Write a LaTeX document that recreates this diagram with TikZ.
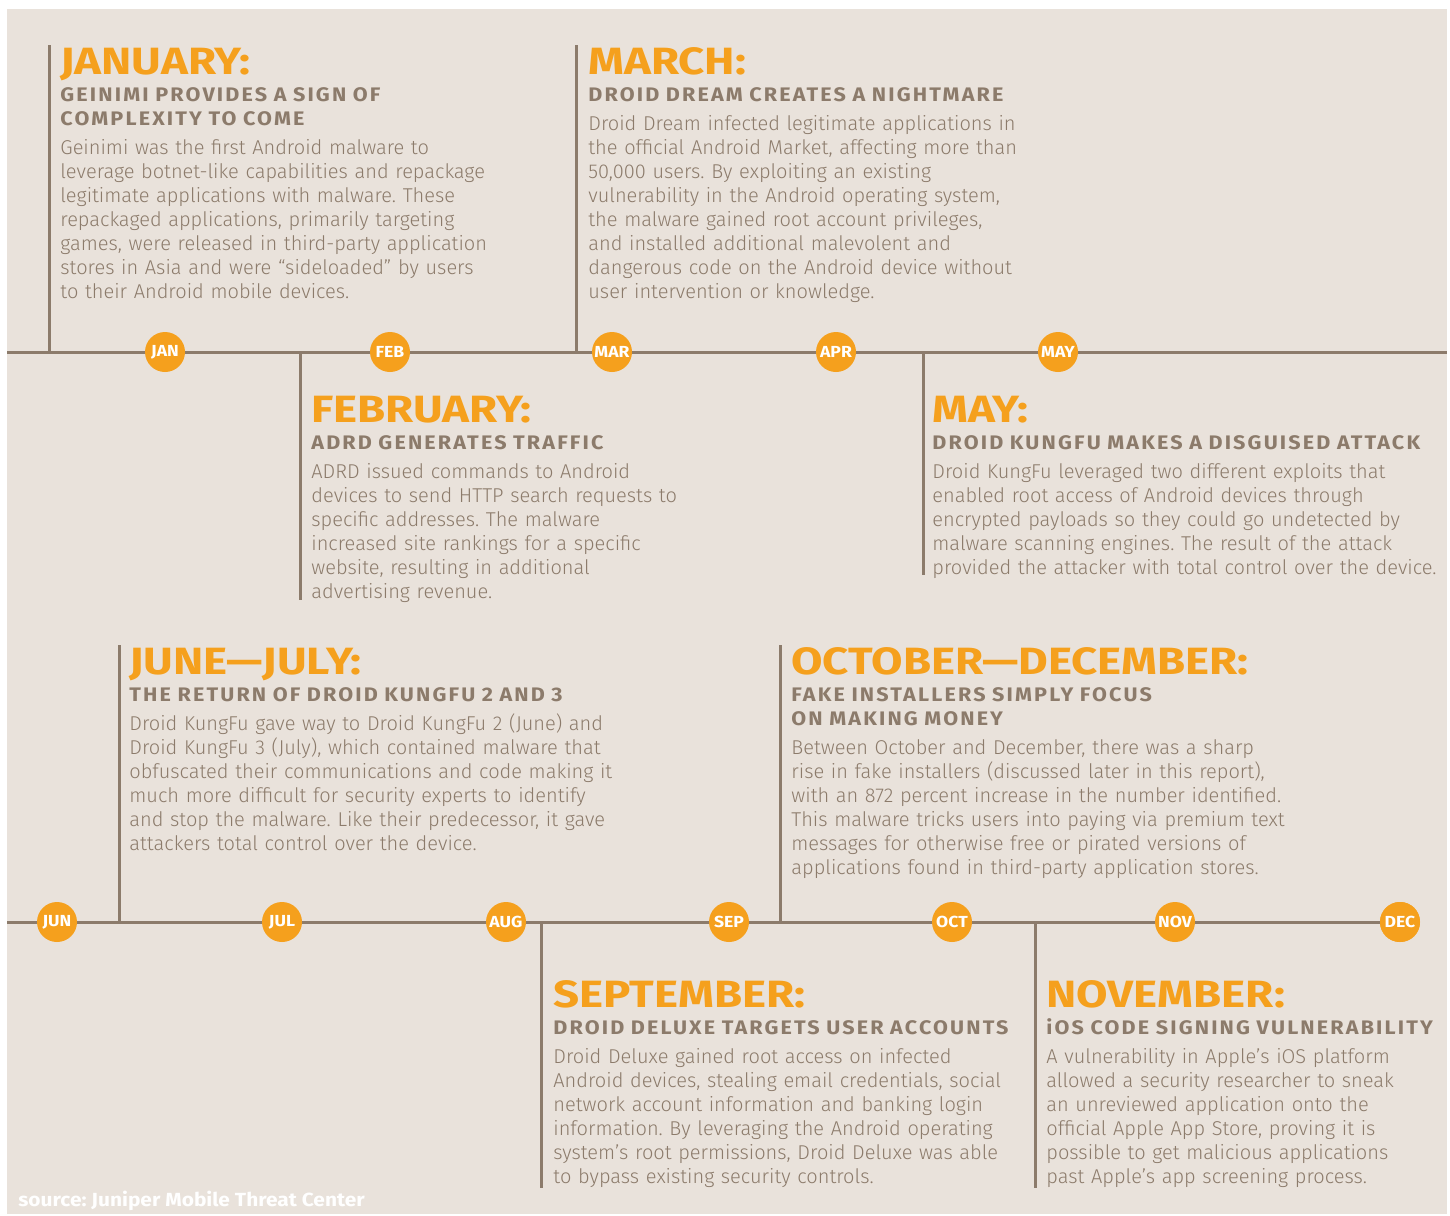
\documentclass[tikz,border=0pt]{standalone}
\usepackage{fontspec}
\setmainfont{Fira Sans Light}[BoldFont={Fira Sans Bold}]
\newfontfamily\headfont{Fira Sans Bold}[FakeStretch=1.2]
\newfontfamily\capsfont{Fira Sans Bold}[FakeStretch=1.1, LetterSpace=11]
\newfontfamily\tagfont{Fira Sans Bold}[FakeStretch=1.1]

\definecolor{sand}{HTML}{E9E2DB}
\definecolor{umber}{HTML}{8C7B6B}
\definecolor{amber}{HTML}{F5A01D}

\begin{document}
\frenchspacing
\begin{tikzpicture}[x=0.5pt, y=-0.5pt,
	headline/.style={anchor=base west, inner sep=0pt, text=amber, font={\headfont\fontsize{19}{20}\selectfont}},
	subline/.style={anchor=base west, inner sep=0pt, text=umber, text width=300pt, align=left, font={\capsfont\fontsize{9.8}{12}\selectfont}},
	bodytext/.style={anchor=base west, inner sep=0pt, text=umber, text width=300pt, align=left, font={\fontsize{10}{12}\selectfont}},
	month/.style={circle, fill=amber, minimum size=20pt, inner sep=0pt, text=white, font={\tagfont\fontsize{8}{8}\selectfont}},
	axis/.style={draw=umber, line width=1.5pt},
	tick/.style={draw=umber, line width=1.5pt}]
	
	\useasboundingbox (0,0) rectangle (1450,1215);
	\fill[sand] (7,9) rectangle (1447,1214);
	
	% timeline ends
	\coordinate (topstart) at (7,352);
	\coordinate (topend) at (1447,352);
	\coordinate (botstart) at (7,922);
	
	% event bars
	\coordinate (jantop) at (49,45);     \coordinate (janfoot) at (49,352);
	\coordinate (martop) at (576,45);    \coordinate (marfoot) at (576,352);
	\coordinate (febtop) at (300,352);   \coordinate (febfoot) at (300,600);
	\coordinate (maytop) at (923,352);   \coordinate (mayfoot) at (923,575);
	\coordinate (juntop) at (119,645);   \coordinate (junfoot) at (119,922);
	\coordinate (octtop) at (780,645);   \coordinate (octfoot) at (780,922);
	\coordinate (septop) at (541,922);   \coordinate (sepfoot) at (541,1188);
	\coordinate (novtop) at (1035,922);  \coordinate (novfoot) at (1035,1188);
	
	\path[tick] (jantop) -- (janfoot);
	\path[tick] (martop) -- (marfoot);
	\path[tick] (febtop) -- (febfoot);
	\path[tick] (maytop) -- (mayfoot);
	\path[tick] (juntop) -- (junfoot);
	\path[tick] (octtop) -- (octfoot);
	\path[tick] (septop) -- (sepfoot);
	\path[tick] (novtop) -- (novfoot);
	
	\node[month] (dec) at (1400,922) {DEC};
	\path[axis] (topstart) -- (topend);
	\path[axis] (botstart) -- (dec);
	
	\node[month] (jan) at (165,352)  {JAN};
	\node[month] (feb) at (390,352)  {FEB};
	\node[month] (mar) at (612,352)  {MAR};
	\node[month] (apr) at (836,352)  {APR};
	\node[month] (may) at (1058,352) {MAY};
	\node[month] (jun) at (57,922)   {JUN};
	\node[month] (jul) at (282,922)  {JUL};
	\node[month] (aug) at (506,922)  {AUG};
	\node[month] (sep) at (729,922)  {SEP};
	\node[month] (oct) at (952,922)  {OCT};
	\node[month] (nov) at (1175,922) {NOV};
	\node[month] (dec) at (1400,922) {DEC};
	
	% january
	\node[headline] (janhead) at (60,74) {JANUARY:};
	\node[subline] (jansub) at (60,101) {GEINIMI PROVIDES A SIGN OF\\COMPLEXITY TO COME};
	\node[bodytext] (janbody) at (60,154) {Geinimi was the first Android malware to\\leverage botnet-like capabilities and repackage\\legitimate applications with malware. These\\repackaged applications, primarily targeting\\games, were released in third-party application\\stores in Asia and were “sideloaded” by users\\to their Android mobile devices.};
	
	% march
	\node[headline] (marhead) at (588,74) {MARCH:};
	\node[subline] (marsub) at (588,101) {DROID DREAM CREATES A NIGHTMARE};
	\node[bodytext] (marbody) at (588,130) {Droid Dream infected legitimate applications in\\the official Android Market, affecting more than\\50,000 users. By exploiting an existing\\vulnerability in the Android operating system,\\the malware gained root account privileges,\\and installed additional malevolent and\\dangerous code on the Android device without\\user intervention or knowledge.};
	
	% february
	\node[headline] (febhead) at (311,422) {FEBRUARY:};
	\node[subline] (febsub) at (311,449) {ADRD GENERATES TRAFFIC};
	\node[bodytext] (febbody) at (311,478) {ADRD issued commands to Android\\devices to send HTTP search requests to\\specific addresses. The malware\\increased site rankings for a specific\\website, resulting in additional\\advertising revenue.};
	
	% may
	\node[headline] (mayhead) at (932,422) {MAY:};
	\node[subline] (maysub) at (932,449) {DROID KUNGFU MAKES A DISGUISED ATTACK};
	\node[bodytext] (maybody) at (932,478) {Droid KungFu leveraged two different exploits that\\enabled root access of Android devices through\\encrypted payloads so they could go undetected by\\malware scanning engines. The result of the attack\\provided the attacker with total control over the device.};
	
	% june - july
	\node[headline] (junhead) at (129,674) {JUNE—JULY:};
	\node[subline] (junsub) at (129,701) {THE RETURN OF DROID KUNGFU 2 AND 3};
	\node[bodytext] (junbody) at (129,730) {Droid KungFu gave way to Droid KungFu 2 (June) and\\Droid KungFu 3 (July), which contained malware that\\obfuscated their communications and code making it\\much more difficult for security experts to identify\\and stop the malware. Like their predecessor, it gave\\attackers total control over the device.};
	
	% october - december
	\node[headline] (octhead) at (791,674) {OCTOBER—DECEMBER:};
	\node[subline] (octsub) at (791,701) {FAKE INSTALLERS SIMPLY FOCUS\\ON MAKING MONEY};
	\node[bodytext] (octbody) at (791,754) {Between October and December, there was a sharp\\rise in fake installers (discussed later in this report),\\with an 872 percent increase in the number identified.\\This malware tricks users into paying via premium text\\messages for otherwise free or pirated versions of\\applications found in third-party application stores.};
	
	% september
	\node[headline] (sephead) at (553,1007) {SEPTEMBER:};
	\node[subline] (sepsub) at (553,1034) {DROID DELUXE TARGETS USER ACCOUNTS};
	\node[bodytext] (sepbody) at (553,1063) {Droid Deluxe gained root access on infected\\Android devices, stealing email credentials, social\\network account information and banking login\\information. By leveraging the Android operating\\system’s root permissions, Droid Deluxe was able\\to bypass existing security controls.};
	
	% november
	\node[headline] (novhead) at (1046,1007) {NOVEMBER:};
	\node[subline] (novsub) at (1046,1034) {iOS CODE SIGNING VULNERABILITY};
	\node[bodytext] (novbody) at (1046,1063) {A vulnerability in Apple’s iOS platform\\allowed a security researcher to sneak\\an unreviewed application onto the\\official Apple App Store, proving it is\\possible to get malicious applications\\past Apple’s app screening process.};
	
	\node[anchor=base west, inner sep=0pt, text=white, font={\tagfont\fontsize{9.5}{10}\selectfont}] (source) at (18,1206) {source: Juniper Mobile Threat Center};
\end{tikzpicture}
\end{document}
